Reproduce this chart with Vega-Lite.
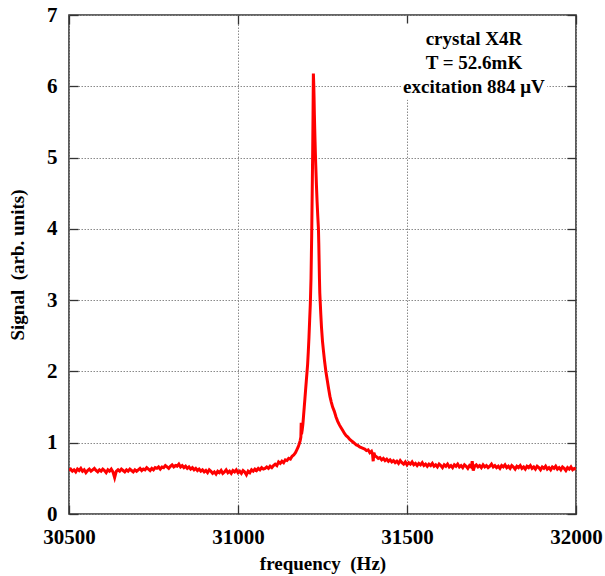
{
  "$schema": "https://vega.github.io/schema/vega-lite/v6.json",
  "width": 507,
  "height": 499,
  "autosize": "none",
  "padding": {"left": 69, "top": 15, "right": 29, "bottom": 62},
  "background": "white",
  "config": {
    "font": "Liberation Serif",
    "view": {"stroke": "#333333", "strokeWidth": 1.6},
    "axis": {
      "labelFont": "Liberation Serif",
      "labelFontWeight": "bold",
      "labelFontSize": 21,
      "labelColor": "#000000",
      "labelFlush": false,
      "labelOverlap": false,
      "titleFont": "Liberation Serif",
      "titleFontWeight": "bold",
      "titleFontSize": 19,
      "titleColor": "#000000",
      "domain": false,
      "tickColor": "#333333",
      "tickWidth": 1.3,
      "tickSize": -9,
      "gridColor": "#8a8a8a",
      "gridDash": [1.5, 1.5],
      "gridWidth": 1,
      "format": "d"
    }
  },
  "datasets": {
    "signal": [
      {"f":30500,"s":0.61},{"f":30505,"s":0.63},{"f":30510,"s":0.60},{"f":30515,"s":0.62},{"f":30520,"s":0.59},
      {"f":30525,"s":0.63},{"f":30530,"s":0.61},{"f":30535,"s":0.64},{"f":30540,"s":0.60},{"f":30545,"s":0.62},
      {"f":30550,"s":0.58},{"f":30555,"s":0.61},{"f":30560,"s":0.63},{"f":30565,"s":0.60},{"f":30570,"s":0.62},
      {"f":30575,"s":0.64},{"f":30580,"s":0.61},{"f":30585,"s":0.59},{"f":30590,"s":0.62},{"f":30595,"s":0.60},
      {"f":30600,"s":0.63},{"f":30605,"s":0.61},{"f":30610,"s":0.58},{"f":30615,"s":0.62},{"f":30620,"s":0.60},
      {"f":30625,"s":0.63},{"f":30630,"s":0.59},{"f":30635,"s":0.51},{"f":30640,"s":0.60},{"f":30645,"s":0.62},
      {"f":30650,"s":0.60},{"f":30655,"s":0.63},{"f":30660,"s":0.61},{"f":30665,"s":0.59},{"f":30670,"s":0.62},
      {"f":30675,"s":0.60},{"f":30680,"s":0.63},{"f":30685,"s":0.61},{"f":30690,"s":0.59},{"f":30695,"s":0.62},
      {"f":30700,"s":0.60},{"f":30705,"s":0.62},{"f":30710,"s":0.64},{"f":30715,"s":0.61},{"f":30720,"s":0.63},
      {"f":30725,"s":0.62},{"f":30730,"s":0.65},{"f":30735,"s":0.63},{"f":30740,"s":0.61},{"f":30745,"s":0.64},
      {"f":30750,"s":0.62},{"f":30755,"s":0.65},{"f":30760,"s":0.64},{"f":30765,"s":0.66},{"f":30770,"s":0.63},
      {"f":30775,"s":0.66},{"f":30780,"s":0.65},{"f":30785,"s":0.68},{"f":30790,"s":0.66},{"f":30795,"s":0.64},
      {"f":30800,"s":0.67},{"f":30805,"s":0.69},{"f":30810,"s":0.66},{"f":30815,"s":0.68},{"f":30820,"s":0.67},
      {"f":30825,"s":0.70},{"f":30830,"s":0.66},{"f":30835,"s":0.68},{"f":30840,"s":0.65},{"f":30845,"s":0.67},
      {"f":30850,"s":0.64},{"f":30855,"s":0.66},{"f":30860,"s":0.63},{"f":30865,"s":0.65},{"f":30870,"s":0.62},
      {"f":30875,"s":0.64},{"f":30880,"s":0.61},{"f":30885,"s":0.63},{"f":30890,"s":0.60},{"f":30895,"s":0.62},
      {"f":30900,"s":0.59},{"f":30905,"s":0.61},{"f":30910,"s":0.58},{"f":30915,"s":0.62},{"f":30920,"s":0.60},
      {"f":30925,"s":0.57},{"f":30930,"s":0.59},{"f":30935,"s":0.56},{"f":30940,"s":0.60},{"f":30945,"s":0.58},
      {"f":30950,"s":0.61},{"f":30955,"s":0.57},{"f":30960,"s":0.59},{"f":30965,"s":0.62},{"f":30970,"s":0.58},
      {"f":30975,"s":0.60},{"f":30980,"s":0.57},{"f":30985,"s":0.61},{"f":30990,"s":0.59},{"f":30995,"s":0.62},
      {"f":31000,"s":0.58},{"f":31005,"s":0.60},{"f":31010,"s":0.57},{"f":31015,"s":0.61},{"f":31020,"s":0.59},
      {"f":31025,"s":0.55},{"f":31030,"s":0.60},{"f":31035,"s":0.58},{"f":31040,"s":0.62},{"f":31045,"s":0.60},
      {"f":31050,"s":0.63},{"f":31055,"s":0.61},{"f":31060,"s":0.64},{"f":31065,"s":0.62},{"f":31070,"s":0.65},
      {"f":31075,"s":0.63},{"f":31080,"s":0.64},{"f":31085,"s":0.66},{"f":31090,"s":0.64},{"f":31095,"s":0.67},
      {"f":31100,"s":0.65},{"f":31105,"s":0.68},{"f":31110,"s":0.70},{"f":31115,"s":0.68},{"f":31120,"s":0.73},
      {"f":31125,"s":0.71},{"f":31130,"s":0.74},{"f":31135,"s":0.72},{"f":31140,"s":0.76},{"f":31145,"s":0.75},
      {"f":31150,"s":0.78},{"f":31155,"s":0.77},{"f":31160,"s":0.81},{"f":31165,"s":0.83},{"f":31170,"s":0.86},
      {"f":31174,"s":0.90},{"f":31178,"s":0.94},{"f":31181,"s":0.98},{"f":31184,"s":1.03},{"f":31186,"s":1.08},
      {"f":31187,"s":1.28},{"f":31188,"s":1.12},{"f":31190,"s":1.18},{"f":31192,"s":1.26},{"f":31194,"s":1.38},
      {"f":31196,"s":1.50},{"f":31198,"s":1.62},{"f":31200,"s":1.74},{"f":31202,"s":1.86},{"f":31204,"s":1.98},
      {"f":31206,"s":2.10},{"f":31208,"s":2.28},{"f":31210,"s":2.48},{"f":31212,"s":2.72},{"f":31214,"s":2.95},
      {"f":31216,"s":3.30},{"f":31218,"s":3.90},{"f":31219,"s":4.30},{"f":31220,"s":4.70},{"f":31221,"s":5.10},
      {"f":31222,"s":5.60},{"f":31223,"s":6.18},{"f":31224,"s":6.05},{"f":31225,"s":5.85},{"f":31226,"s":5.60},
      {"f":31227,"s":5.40},{"f":31228,"s":5.22},{"f":31229,"s":5.05},{"f":31230,"s":4.90},{"f":31232,"s":4.62},
      {"f":31234,"s":4.38},{"f":31236,"s":4.18},{"f":31238,"s":4.00},{"f":31239,"s":3.80},{"f":31240,"s":3.55},
      {"f":31241,"s":3.30},{"f":31242,"s":3.10},{"f":31243,"s":3.00},{"f":31245,"s":2.80},{"f":31247,"s":2.62},
      {"f":31250,"s":2.42},{"f":31253,"s":2.28},{"f":31256,"s":2.15},{"f":31260,"s":2.00},{"f":31264,"s":1.88},
      {"f":31268,"s":1.76},{"f":31272,"s":1.65},{"f":31276,"s":1.57},{"f":31280,"s":1.50},{"f":31285,"s":1.44},
      {"f":31290,"s":1.36},{"f":31295,"s":1.30},{"f":31300,"s":1.25},{"f":31305,"s":1.21},{"f":31310,"s":1.17},
      {"f":31315,"s":1.13},{"f":31320,"s":1.10},{"f":31325,"s":1.08},{"f":31330,"s":1.05},{"f":31335,"s":1.03},
      {"f":31340,"s":1.01},{"f":31345,"s":0.99},{"f":31350,"s":0.97},{"f":31355,"s":0.96},{"f":31360,"s":0.94},
      {"f":31365,"s":0.93},{"f":31370,"s":0.92},{"f":31375,"s":0.91},{"f":31380,"s":0.89},{"f":31385,"s":0.90},
      {"f":31390,"s":0.86},{"f":31395,"s":0.88},{"f":31398,"s":0.84},{"f":31400,"s":0.74},{"f":31402,"s":0.86},
      {"f":31405,"s":0.82},{"f":31410,"s":0.80},{"f":31415,"s":0.78},{"f":31420,"s":0.79},{"f":31425,"s":0.76},
      {"f":31430,"s":0.78},{"f":31435,"s":0.75},{"f":31440,"s":0.77},{"f":31445,"s":0.74},{"f":31450,"s":0.76},
      {"f":31455,"s":0.73},{"f":31460,"s":0.75},{"f":31465,"s":0.72},{"f":31470,"s":0.74},{"f":31475,"s":0.71},
      {"f":31480,"s":0.75},{"f":31485,"s":0.72},{"f":31490,"s":0.70},{"f":31495,"s":0.73},{"f":31500,"s":0.69},
      {"f":31505,"s":0.72},{"f":31510,"s":0.70},{"f":31515,"s":0.73},{"f":31520,"s":0.69},{"f":31525,"s":0.71},
      {"f":31530,"s":0.68},{"f":31535,"s":0.71},{"f":31540,"s":0.69},{"f":31545,"s":0.72},{"f":31550,"s":0.68},
      {"f":31555,"s":0.70},{"f":31560,"s":0.67},{"f":31565,"s":0.70},{"f":31570,"s":0.68},{"f":31575,"s":0.71},
      {"f":31580,"s":0.67},{"f":31585,"s":0.69},{"f":31590,"s":0.66},{"f":31595,"s":0.70},{"f":31600,"s":0.68},
      {"f":31605,"s":0.65},{"f":31610,"s":0.69},{"f":31615,"s":0.67},{"f":31620,"s":0.70},{"f":31625,"s":0.66},
      {"f":31630,"s":0.68},{"f":31635,"s":0.65},{"f":31640,"s":0.69},{"f":31645,"s":0.67},{"f":31650,"s":0.70},
      {"f":31655,"s":0.66},{"f":31660,"s":0.68},{"f":31665,"s":0.65},{"f":31670,"s":0.69},{"f":31675,"s":0.67},
      {"f":31680,"s":0.64},{"f":31685,"s":0.68},{"f":31690,"s":0.66},{"f":31693,"s":0.74},{"f":31696,"s":0.61},
      {"f":31700,"s":0.67},{"f":31705,"s":0.69},{"f":31710,"s":0.66},{"f":31715,"s":0.68},{"f":31720,"s":0.65},
      {"f":31725,"s":0.69},{"f":31730,"s":0.66},{"f":31735,"s":0.68},{"f":31740,"s":0.65},{"f":31745,"s":0.67},
      {"f":31750,"s":0.70},{"f":31755,"s":0.66},{"f":31760,"s":0.68},{"f":31765,"s":0.65},{"f":31770,"s":0.67},
      {"f":31775,"s":0.64},{"f":31780,"s":0.68},{"f":31785,"s":0.66},{"f":31790,"s":0.69},{"f":31795,"s":0.65},
      {"f":31800,"s":0.67},{"f":31805,"s":0.64},{"f":31810,"s":0.68},{"f":31815,"s":0.66},{"f":31820,"s":0.63},
      {"f":31825,"s":0.67},{"f":31830,"s":0.65},{"f":31835,"s":0.68},{"f":31840,"s":0.64},{"f":31845,"s":0.66},
      {"f":31850,"s":0.63},{"f":31855,"s":0.67},{"f":31860,"s":0.65},{"f":31865,"s":0.68},{"f":31870,"s":0.64},
      {"f":31875,"s":0.66},{"f":31880,"s":0.63},{"f":31885,"s":0.67},{"f":31890,"s":0.65},{"f":31895,"s":0.62},
      {"f":31900,"s":0.66},{"f":31905,"s":0.64},{"f":31910,"s":0.67},{"f":31915,"s":0.63},{"f":31920,"s":0.65},
      {"f":31925,"s":0.62},{"f":31930,"s":0.66},{"f":31935,"s":0.64},{"f":31940,"s":0.67},{"f":31945,"s":0.63},
      {"f":31950,"s":0.65},{"f":31955,"s":0.62},{"f":31960,"s":0.66},{"f":31965,"s":0.64},{"f":31970,"s":0.61},
      {"f":31975,"s":0.65},{"f":31980,"s":0.63},{"f":31985,"s":0.66},{"f":31990,"s":0.62},{"f":31995,"s":0.64},
      {"f":32000,"s":0.63}
    ],
    "keybox": [{"f": 31485, "f2": 31915, "s": 5.81, "s2": 6.88}],
    "notes": [
      {"f": 31698, "s": 6.67, "label": "crystal X4R"},
      {"f": 31698, "s": 6.33, "label": "T = 52.6mK"},
      {"f": 31698, "s": 5.99, "label": "excitation 884 μV"}
    ]
  },
  "layer": [
    {
      "data": {"name": "signal"},
      "mark": {"type": "line", "color": "#ff0000", "strokeWidth": 3, "clip": true},
      "encoding": {
        "x": {
          "field": "f", "type": "quantitative",
          "scale": {"domain": [30500, 32000], "nice": false, "zero": false},
          "axis": {
            "orient": "bottom",
            "values": [30500, 31000, 31500, 32000],
            "grid": true,
            "labelPadding": 21,
            "title": "frequency\u00a0 (Hz)",
            "titlePadding": 7
          }
        },
        "y": {
          "field": "s", "type": "quantitative",
          "scale": {"domain": [0, 7], "nice": false, "zero": true},
          "axis": {
            "orient": "left",
            "values": [0, 1, 2, 3, 4, 5, 6, 7],
            "grid": true,
            "labelPadding": 21,
            "title": "Signal\u00a0 (arb. units)",
            "titlePadding": 19
          }
        }
      }
    },
    {
      "data": {"name": "keybox"},
      "mark": {"type": "rect", "fill": "white", "stroke": null},
      "encoding": {
        "x": {"field": "f", "type": "quantitative",
          "axis": {"orient": "top", "values": [30500, 31000, 31500, 32000], "labels": false, "grid": false, "title": null}},
        "x2": {"field": "f2"},
        "y": {"field": "s", "type": "quantitative",
          "axis": {"orient": "right", "values": [0, 1, 2, 3, 4, 5, 6, 7], "labels": false, "grid": false, "title": null}},
        "y2": {"field": "s2"}
      }
    },
    {
      "data": {"name": "notes"},
      "mark": {"type": "text", "font": "Liberation Serif", "fontWeight": "bold", "fontSize": 19, "align": "center", "baseline": "middle", "color": "#000000"},
      "encoding": {
        "x": {"field": "f", "type": "quantitative", "axis": null},
        "y": {"field": "s", "type": "quantitative", "axis": null},
        "text": {"field": "label"}
      }
    }
  ],
  "resolve": {"axis": {"x": "independent", "y": "independent"}}
}
